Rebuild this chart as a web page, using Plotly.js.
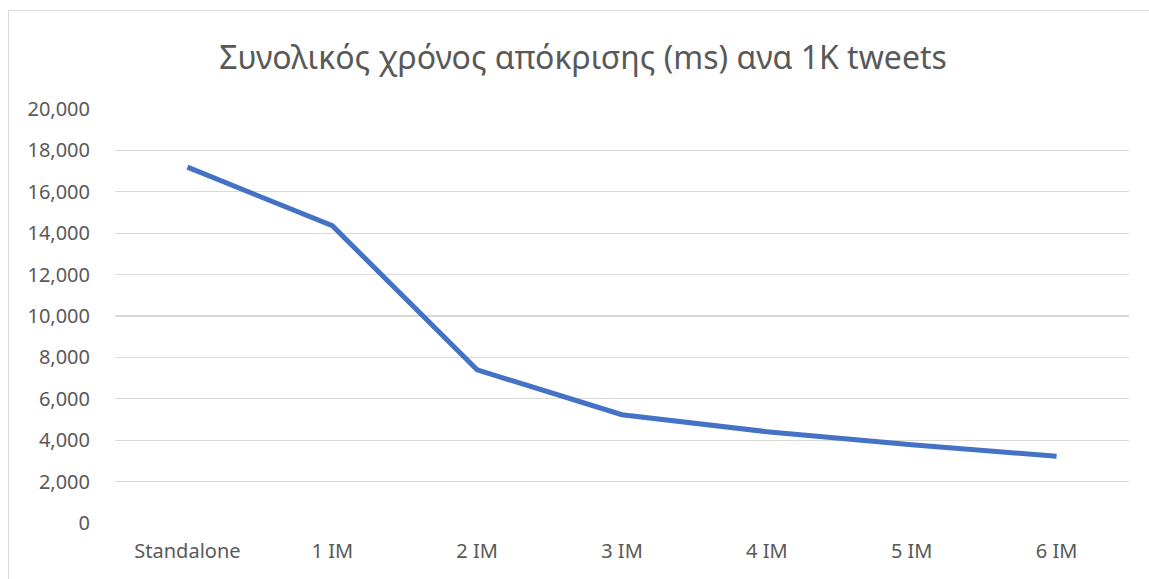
<!DOCTYPE html>
<html>
<head>
<meta charset="utf-8">
<script src="https://cdn.plot.ly/plotly-3.0.1.min.js"></script>
<style>
  html, body { margin: 0; padding: 0; background: #fff; overflow: hidden; }
  #frame { position: absolute; left: 8px; top: 10px; width: 1200px; height: 640px;
           border-left: 1.5px solid #d9d9d9; border-top: 1.5px solid #d9d9d9; }
  #chart { position: absolute; left: 0; top: 0; width: 1149px; height: 579px; }
</style>
</head>
<body>
<div id="frame"></div>
<div id="chart"></div>
<script>
const categories = ["Standalone", "1 IM", "2 IM", "3 IM", "4 IM", "5 IM", "6 IM"];
const responseTimes = [17190, 14360, 7400, 5230, 4410, 3780, 3220];
const yTickValues = [0, 2000, 4000, 6000, 8000, 10000, 12000, 14000, 16000, 18000, 20000];
const titleText = "Συνολικός χρόνος απόκρισης (ms) ανα 1K tweets";

const trace = {
  x: categories,
  y: responseTimes,
  type: "scatter",
  mode: "lines",
  line: { color: "#4472C4", width: 5 },
  hoverinfo: "x+y"
};

const layout = {
  width: 1149,
  height: 579,
  margin: { l: 115, r: 20, t: 109, b: 56 },
  paper_bgcolor: "rgba(0,0,0,0)",
  plot_bgcolor: "rgba(0,0,0,0)",
  showlegend: false,
  font: { family: "Noto Sans, Open Sans, sans-serif", color: "#595959", size: 20 },
  title: {
    text: titleText,
    font: { family: "Noto Sans, Open Sans, sans-serif", size: 32, color: "#595959" },
    x: 0.5074, xanchor: "center",
    y: 0.9, yanchor: "middle", yref: "container"
  },
  xaxis: {
    type: "category",
    range: [-0.5, 6.5],
    showgrid: false,
    showline: false,
    zeroline: false,
    ticks: "",
    tickfont: { size: 20, color: "#595959" },
    ticklabelstandoff: 14
  },
  yaxis: {
    range: [0, 20000],
    tickvals: yTickValues,
    tickformat: ",",
    showgrid: true,
    gridcolor: "#d9d9d9",
    gridwidth: 1.3,
    zeroline: false,
    showline: false,
    ticks: "",
    tickfont: { size: 20, color: "#595959" },
    ticklabelstandoff: 24
  }
};

Plotly.newPlot("chart", [trace], layout, { displayModeBar: false, staticPlot: true });
</script>
</body>
</html>
